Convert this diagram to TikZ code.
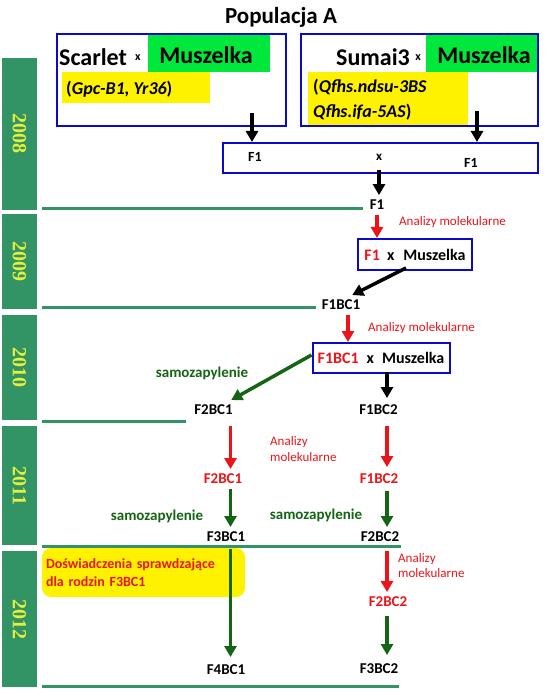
\documentclass[tikz,border=0pt]{standalone}
\usepackage{fontspec}
\setmainfont{Carlito}
\newfontfamily\yearfont{Liberation Serif}
\usepackage{xcolor}
\usetikzlibrary{arrows.meta}

\definecolor{barg}{RGB}{50,148,100}
\definecolor{yeartxt}{RGB}{228,240,60}
\definecolor{boxblue}{RGB}{10,10,200}
\definecolor{mgreen}{RGB}{0,232,60}
\definecolor{dgreen}{RGB}{20,100,20}
\definecolor{ared}{RGB}{235,20,25}

\newcommand\fsz[1]{\fontsize{#1}{#1}\selectfont}

\tikzset{
	yearlbl/.style={rotate=-90, text=yeartxt, font=\yearfont\bfseries\fsz{20}},
	yline/.style={draw=barg, line width=3pt},
	crossbox/.style={draw=boxblue, line width=2pt, inner sep=0pt},
	parent/.style={font=\bfseries\fsz{24}, inner sep=0pt},
	xsign/.style={font=\bfseries\fsz{12}, inner sep=0pt},
	genes/.style={font=\bfseries\fontsize{18}{25}\selectfont, inner sep=0pt, align=left},
	gen/.style={font=\bfseries\fsz{15}, inner sep=1pt, outer sep=4pt},
	rgen/.style={gen, text=ared},
	anly/.style={text=ared, font=\fontsize{13}{16}\selectfont, inner sep=0pt, align=left},
	selfp/.style={text=dgreen, font=\bfseries\fsz{15}, inner sep=0pt},
	barr/.style={line width=3.5pt, -{Triangle[width=12pt,length=11pt]}},
	rarr/.style={barr, ared},
	garr/.style={barr, dgreen}
}

\begin{document}
\begin{tikzpicture}[x=1pt,y=-1pt]
	\def\colA{230.5};
	\def\colB{387};
	\useasboundingbox (0,0) rectangle (544,692);

	\fill[barg] (2,58) rectangle (37,210);
	\fill[barg] (2,214) rectangle (37,309);
	\fill[barg] (2,315) rectangle (37,420);
	\fill[barg] (2,426) rectangle (37,545);
	\fill[barg] (2,551) rectangle (37,687);
	\node[yearlbl] (y08) at (19.5,134) {2008};
	\node[yearlbl] (y09) at (19.5,262) {2009};
	\node[yearlbl] (y10) at (19.5,367) {2010};
	\node[yearlbl] (y11) at (19.5,486) {2011};
	\node[yearlbl] (y12) at (19.5,619) {2012};

	\draw[yline] (42,209) -- (363,209);
	\draw[yline] (42,307) -- (316,307);
	\draw[yline] (42,421) -- (186,421);
	\draw[yline] (42,546) -- (401,546);
	\draw[yline] (42,686) -- (399,686);

	\node[font=\bfseries\fsz{23}] (title) at (281,17) {Populacja A};
	\fill[mgreen] (148,35) rectangle (270,72);
	\fill[yellow] (62,72) rectangle (210,103);
	\fill[mgreen] (426,35) rectangle (538,72);
	\fill[yellow] (308,72) rectangle (468,125);
	\node[crossbox, minimum width=229pt, minimum height=92pt] (pa) at (171.5,80) {};
	\node[crossbox, minimum width=237pt, minimum height=92pt] (pb) at (419.5,80) {};
	\node[parent, anchor=west] (scar) at (59,57) {Scarlet};
	\node[xsign] (xa) at (138,58) {x};
	\node[parent] (musa) at (206,55) {Muszelka};
	\node[genes, anchor=west] (gena) at (66,89) {(\textit{Gpc-B1, Yr36})};
	\node[parent, anchor=east] (suma) at (410,57) {Sumai3};
	\node[xsign] (xb) at (418,58) {x};
	\node[parent] (musb) at (484,55) {Muszelka};
	\node[genes, anchor=west] (genb) at (313,100) {(\textit{Qfhs.ndsu-3BS}\\\textit{Qfhs.ifa-5AS})};

	\node[crossbox, minimum width=315pt, minimum height=30pt] (fbox) at (380.5,158) {};
	\node[gen, font=\bfseries\fsz{14}] (fa) at (255,157) {F1};
	\node[xsign, font=\bfseries\fsz{13}] (fx) at (379,157) {x};
	\node[gen, font=\bfseries\fsz{14}] (fb) at (471,163) {F1};
	\coordinate (ta) at (252,113);
	\coordinate (tb) at (477,111);
	\draw[barr] (ta) -- (ta |- fbox.north);
	\draw[barr] (tb) -- (tb |- fbox.north);

	\node[gen] (f1) at (377,205) {F1};
	\draw[barr] ([yshift=-10pt]fx.south) -- (fx |- f1.north);
	\node[anly, anchor=west] (an1) at (399,222) {Analizy molekularne};
	\node[crossbox, font=\bfseries\fsz{16}, minimum width=114pt, minimum height=31pt] (mb1) at (415,254.5) {\textcolor{ared}{F1}\hspace{0.45em}x\hspace{0.55em}Muszelka};
	\draw[rarr] (f1.south) -- (f1.south |- mb1.north);
	\node[gen] (f1bc1) at (341,305) {F1BC1};
	\draw[barr] ([xshift=-9pt,yshift=3pt]mb1.south) -- ([xshift=-13pt]f1bc1.north east);

	\node[anly, anchor=west] (an2) at (368,328) {Analizy molekularne};
	\node[crossbox, font=\bfseries\fsz{16}, minimum width=137pt, minimum height=30pt] (mb2) at (381,358) {\textcolor{ared}{F1BC1}\hspace{0.5em}x\hspace{0.5em}Muszelka};
	\draw[rarr] ([xshift=7pt]f1bc1.south) -- ([xshift=7pt]f1bc1.south |- mb2.north);
	\node[selfp] (s1) at (202,373) {samozapylenie};
	\node[gen] (f2bc1) at (213.5,410) {F2BC1};
	\node[gen] (f1bc2) at (378.5,410) {F1BC2};
	\draw[garr] ([yshift=3pt]mb2.west) -- ([xshift=-6.5pt]f2bc1.north east);
	\draw[barr] ([xshift=6pt,yshift=2pt]mb2.south) -- ([xshift=6pt,yshift=2pt]mb2.south |- f1bc2.north);

	\coordinate (ca) at (\colA,0);
	\coordinate (cb) at (\colB,0);
	\node[rgen] (f2bc1r) at (223,479) {F2BC1};
	\node[rgen] (f1bc2r) at (379,479) {F1BC2};
	\draw[rarr] ([yshift=-6pt]f2bc1.south -| ca) -- (f2bc1r.north -| ca);
	\draw[rarr] ([yshift=-6pt]f1bc2.south -| cb) -- ([yshift=2pt]f1bc2r.north -| cb);
	\node[anly, anchor=west] (an3) at (270,449) {Analizy\\molekularne};
	\node[gen] (f3bc1) at (226,537) {F3BC1};
	\node[gen] (f2bc2) at (380,537) {F2BC2};
	\node[selfp] (s2) at (157,516) {samozapylenie};
	\node[selfp] (s3) at (316,515) {samozapylenie};
	\draw[garr] (f2bc1r.south -| ca) -- (f3bc1.north -| ca);
	\draw[garr] ([yshift=-2pt]f1bc2r.south -| cb) -- (f2bc2.north -| cb);

	\node[fill=yellow, rounded corners=9pt, minimum width=203pt, minimum height=49pt, inner xsep=4pt, text width=195pt, align=left, text=ared, font=\bfseries\fontsize{14}{18}\selectfont] (note) at (143.5,572.5) {Doświadczenia sprawdzające\\dla rodzin F3BC1};
	\node[gen] (f4bc1) at (226,670) {F4BC1};
	\node[rgen] (f2bc2r) at (388,602) {F2BC2};
	\node[gen] (f3bc2) at (379,669) {F3BC2};
	\node[anly, anchor=west, font=\fontsize{13}{15}\selectfont] (an4) at (398,566) {Analizy\\molekularne};
	\draw[garr] ([yshift=-2pt]f3bc1.south -| ca) -- ([yshift=3pt]f4bc1.north -| ca);
	\draw[rarr] ([yshift=-4pt]f2bc2.south -| cb) -- (f2bc2r.north -| cb);
	\draw[garr] ([yshift=-4pt]f2bc2r.south -| cb) -- ([yshift=4pt]f3bc2.north -| cb);
\end{tikzpicture}
\end{document}
